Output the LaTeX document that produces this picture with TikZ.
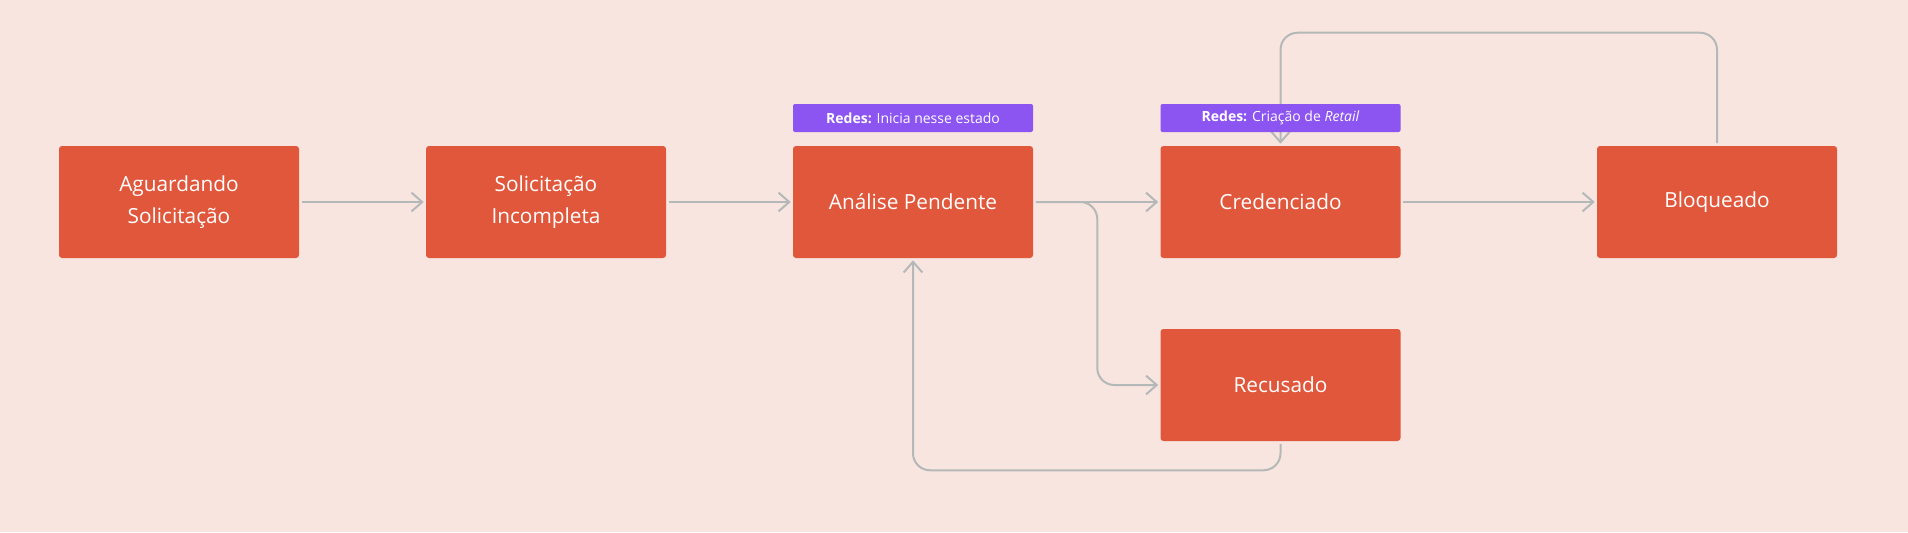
\documentclass[tikz,border=0pt]{standalone}
\usepackage{fontspec}
\setmainfont{Open Sans}
\usetikzlibrary{arrows.meta}

\definecolor{corFundo}{RGB}{248,229,223}
\definecolor{corEstado}{RGB}{224,87,59}
\definecolor{corRede}{RGB}{140,84,240}
\definecolor{corSeta}{RGB}{180,184,184}

\tikzset{
  estado/.style={fill=corEstado, rounded corners=2.25pt, minimum width=180pt, minimum height=84pt,
    inner sep=0pt, text=white, align=center, font=\fontsize{15.6}{23.5}\selectfont},
  rede/.style={fill=corRede, rounded corners=1.5pt, minimum width=180pt, minimum height=21pt,
    inner sep=0pt, text=white, font=\fontsize{10.5}{12}\selectfont},
  seta/.style={draw=corSeta, line width=1.5pt, -{Straight Barb[length=8pt,width=14pt]},
    shorten <=2pt, shorten >=1.5pt}
}

\begin{document}
\begin{tikzpicture}[x=0.75pt,y=0.75pt,yscale=-1]
%set diagram left start at 0, and has height of 532
\fill [corFundo] (0,0) rectangle (1908,532);

%Shape: Rectangle
\node [estado] (aguardando) at (179,202) {Aguardando\\Solicitação};
%Shape: Rectangle
\node [estado] (solicitacao) at (546,202) {Solicitação\\Incompleta};
%Shape: Rectangle
\node [estado] (analise) at (913,202) {Análise Pendente};
%Shape: Rectangle
\node [estado] (credenciado) at (1280.5,202) {Credenciado};
%Shape: Rectangle
\node [estado] (bloqueado) at (1717,202) {Bloqueado};
%Shape: Rectangle
\node [estado] (recusado) at (1280.5,385) {Recusado};

%Straight Lines
\draw [seta] (aguardando) -- (solicitacao);
\draw [seta] (solicitacao) -- (analise);
\draw [seta] (analise) -- (credenciado);
\draw [seta] (credenciado) -- (bloqueado);
%Connectors with bends
\draw [seta, rounded corners=12.75pt] (analise.east) -- ++(64,0) |- (recusado.west);
\draw [seta, rounded corners=12.75pt] (recusado.south) -- ++(0,29) -| (analise.south);
\draw [seta, rounded corners=12.75pt] (bloqueado.north) -- ++(0,-113) -| (credenciado.north);

% Text Node
\node [rede] (redeAnalise) at (913,118) {\textbf{Redes:} Inicia nesse estado};
% Text Node
\node [rede] (redeCredenciado) at (1280.5,118) {\textbf{Redes:} Criação de \textit{Retail}};

\end{tikzpicture}
\end{document}
